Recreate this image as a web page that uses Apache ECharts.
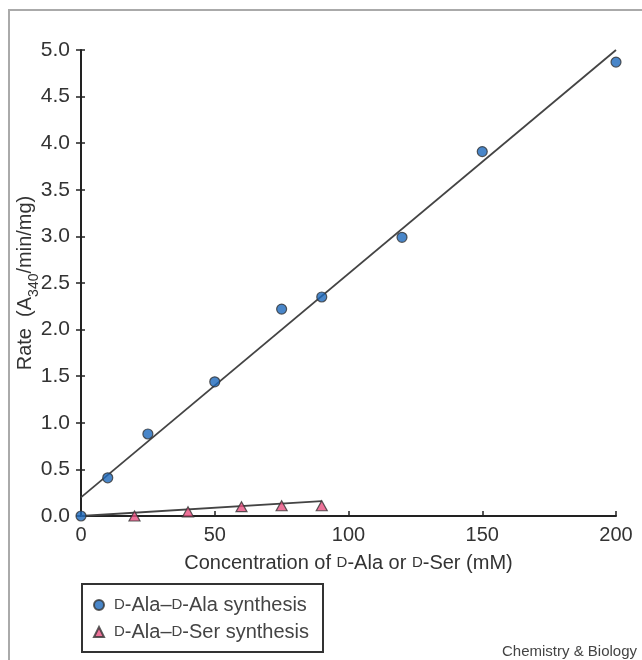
<!DOCTYPE html>
<html>
<head>
<meta charset="utf-8">
<script src="https://cdn.jsdelivr.net/npm/echarts@6/dist/echarts.min.js"></script>
<style>
    html, body { margin: 0; padding: 0; background: #fff; }
    #chart { width: 642px; height: 660px; }
</style>
</head>
<body>
<div id="chart"></div>
<script>
var alaConc = [0, 10, 25, 50, 75, 90, 120, 150, 200];
var alaRate = [0, 0.41, 0.88, 1.44, 2.22, 2.35, 2.99, 3.91, 4.87];
var serConc = [20, 40, 60, 75, 90];
var serRate = [0.0, 0.045, 0.10, 0.11, 0.11];
// fitted lines (end points)
var alaFit = [[0, 0.2], [200, 5.0]];
var serFit = [[0, 0], [90, 0.16]];
var xTicks = [0, 50, 100, 150, 200];
var yTicks = [0, 0.5, 1.0, 1.5, 2.0, 2.5, 3.0, 3.5, 4.0, 4.5, 5.0];

var font = 'Liberation Sans';
var names = {
    'D-Ala–D-Ala synthesis': '{sc|D}-Ala–{sc|D}-Ala synthesis',
    'D-Ala–D-Ser synthesis': '{sc|D}-Ala–{sc|D}-Ser synthesis'
};

function pairs(xs, ys) {
    var out = [];
    for (var i = 0; i < xs.length; i++) out.push([xs[i], ys[i]]);
    return out;
}

function chart() {
    var myChart = echarts.init(document.getElementById('chart'));
    option = {
        backgroundColor: '#fff',
        animation: false,
        grid: {
            left: 81,
            right: 26,
            top: 50,
            bottom: 144,
            containLabel: false,
            outerBoundsMode: 'none'
        },
        legend: {
            orient: 'vertical',
            left: 93,
            top: 595,
            padding: 0,
            itemWidth: 10,
            itemHeight: 10,
            itemGap: 7,
            data: [{name: 'D-Ala–D-Ala synthesis', icon: 'circle'},
                {name: 'D-Ala–D-Ser synthesis', icon: 'triangle'}],
            formatter: function (n) { return names[n]; },
            textStyle: {
                color: '#444',
                fontFamily: font,
                fontSize: 20,
                lineHeight: 20,
                padding: [0, 0, 0, 5],
                rich: {
                    sc: {fontSize: 15, lineHeight: 20, color: '#444', fontFamily: font}
                }
            }
        },
        xAxis: {
            type: 'value',
            min: xTicks[0],
            max: xTicks[xTicks.length - 1],
            interval: 50,
            name: 'Concentration of {sc|D}-Ala or {sc|D}-Ser (mM)',
            nameLocation: 'middle',
            nameGap: 37,
            nameMoveOverlap: false,
            nameTextStyle: {
                color: '#333',
                fontFamily: font,
                fontSize: 20,
                verticalAlign: 'top',
                rich: {
                    sc: {fontSize: 15, color: '#333', fontFamily: font}
                }
            },
            splitLine: {show: false},
            axisLine: {lineStyle: {color: '#222', width: 2}},
            axisTick: {inside: true, length: 5, lineStyle: {color: '#222', width: 1.5}},
            axisLabel: {color: '#333', fontFamily: font, fontSize: 20, margin: 9}
        },
        yAxis: [
            {
                type: 'value',
                min: yTicks[0],
                max: yTicks[yTicks.length - 1],
                interval: 0.5,
                name: '{n|Rate  (A}{sub|340}{n|/min/mg)}',
                nameLocation: 'middle',
                nameRotate: 90,
                nameGap: 40,
                nameMoveOverlap: false,
                nameTextStyle: {
                    color: '#333',
                    fontFamily: font,
                    fontSize: 20,
                    rich: {
                        n: {fontSize: 20, lineHeight: 26, color: '#333', fontFamily: font, verticalAlign: 'top'},
                        sub: {fontSize: 14, lineHeight: 26, color: '#333', fontFamily: font, verticalAlign: 'bottom'}
                    }
                },
                splitLine: {show: false},
                axisLine: {lineStyle: {color: '#222', width: 2}},
                axisTick: {length: 5, lineStyle: {color: '#222', width: 1.5}},
                axisLabel: {
                    color: '#333', fontFamily: font, fontSize: 21, margin: 11,
                    formatter: function (v) { return v.toFixed(1); }
                }
            },
            {
                // second copy of the scale so the ticks cross the axis
                type: 'value',
                position: 'left',
                offset: 0,
                min: yTicks[0],
                max: yTicks[yTicks.length - 1],
                interval: 0.5,
                splitLine: {show: false},
                axisLine: {show: false},
                axisLabel: {show: false},
                axisTick: {inside: true, length: 4, lineStyle: {color: '#222', width: 1.5}}
            }
        ],
        graphic: [
            {
                type: 'rect',
                shape: {x: 9, y: 10, width: 700, height: 700},
                style: {fill: 'none', stroke: '#aaa', lineWidth: 2},
                silent: true
            },
            {
                type: 'rect',
                shape: {x: 82, y: 584, width: 241, height: 68},
                style: {fill: 'none', stroke: '#333', lineWidth: 2},
                silent: true
            },
            {
                type: 'text',
                right: 5,
                top: 644,
                style: {text: 'Chemistry & Biology', fill: '#444', font: '15px "Liberation Sans"'}
            }
        ],
        series: [
            {
                name: 'fitAla',
                type: 'line',
                data: alaFit,
                symbol: 'none',
                lineStyle: {color: '#444', width: 1.8},
                z: 2
            },
            {
                name: 'fitSer',
                type: 'line',
                data: serFit,
                symbol: 'none',
                lineStyle: {color: '#444', width: 1.8},
                z: 2
            },
            {
                name: 'D-Ala–D-Ser synthesis',
                type: 'scatter',
                data: pairs(serConc, serRate),
                symbol: 'triangle',
                symbolSize: [11, 10],
                itemStyle: {color: '#e84f80', borderColor: '#333', borderWidth: 1.2},
                z: 3
            },
            {
                name: 'D-Ala–D-Ala synthesis',
                type: 'scatter',
                data: pairs(alaConc, alaRate),
                symbol: 'circle',
                symbolSize: 10,
                itemStyle: {color: '#1b68bb', borderColor: '#333', borderWidth: 1.2},
                z: 4
            }
        ]
    };

    myChart.setOption(option);
}

chart();
</script>
</body>
</html>
